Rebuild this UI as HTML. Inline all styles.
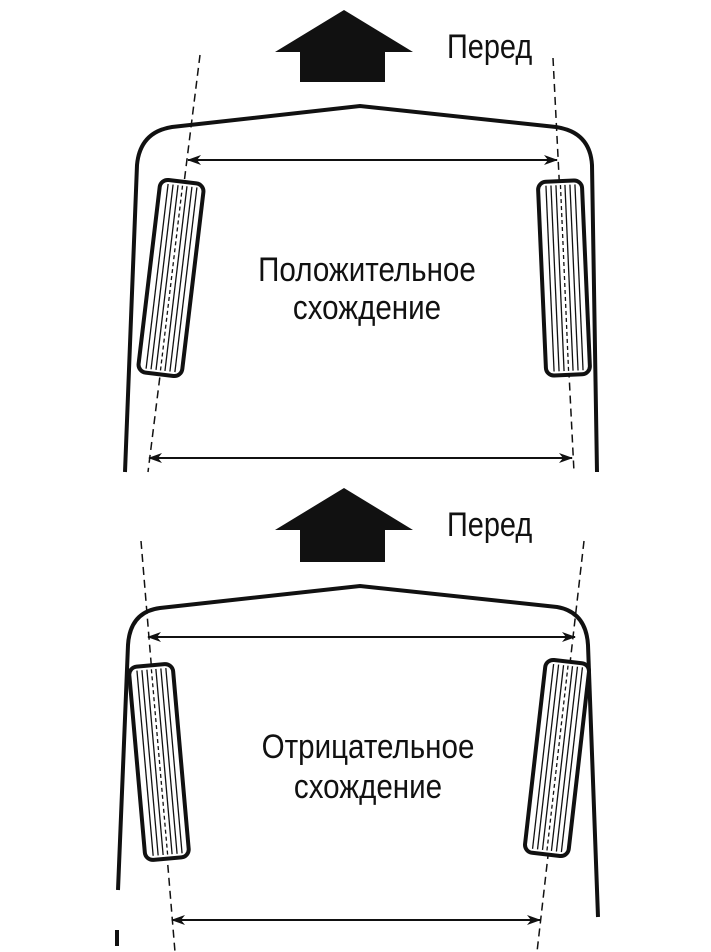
<!DOCTYPE html>
<html><head><meta charset="utf-8"><style>
html,body{margin:0;padding:0;background:#fff;}
svg{display:block}
text{font-family:"Liberation Sans",sans-serif;fill:#111;}
</style></head><body>
<svg width="711" height="952" viewBox="0 0 711 952" xmlns="http://www.w3.org/2000/svg">
<defs>
<marker id="ah" viewBox="0 0 14 10" refX="13" refY="5" markerWidth="14" markerHeight="10" markerUnits="userSpaceOnUse" orient="auto-start-reverse">
<path d="M0,0 L14,5 L0,10 L4,5 Z" fill="#111"/>
</marker>
<g id="wheel">
<rect x="-22" y="-97" width="44" height="194" rx="8" fill="#fff" stroke="#111" stroke-width="4"/>
<g stroke="#111" stroke-width="1.3">
<line x1="-14" y1="-93" x2="-14" y2="93"/>
<line x1="-9" y1="-93" x2="-9" y2="93"/>
<line x1="-4" y1="-93" x2="-4" y2="93"/>
<line x1="5" y1="-93" x2="5" y2="93"/>
<line x1="10" y1="-93" x2="10" y2="93"/>
<line x1="15" y1="-93" x2="15" y2="93"/>
<line x1="0.5" y1="-93" x2="0.5" y2="93" stroke-dasharray="4 3"/>
</g>
</g>
</defs>

<!-- TOP -->
<polygon points="275,52 344,10 413,52 385,52 385,82 300,82 300,52" fill="#111"/>
<text x="447" y="58" font-size="34" transform="translate(447 0) scale(0.85 1) translate(-447 0)">Перед</text>
<path d="M125,472 L137,165 Q140,132 172,127 L360,106 L556,127 Q590,132 592,165 L597,472" fill="none" stroke="#111" stroke-width="4"/>
<line x1="200" y1="55" x2="148" y2="472" stroke="#111" stroke-width="1.5" stroke-dasharray="8 5"/>
<line x1="553" y1="58" x2="574" y2="472" stroke="#111" stroke-width="1.5" stroke-dasharray="8 5"/>
<use href="#wheel" transform="translate(171 278) rotate(6.8)"/>
<use href="#wheel" transform="translate(564 278) rotate(-2.5)"/>
<line x1="188" y1="160" x2="557" y2="160" stroke="#111" stroke-width="2" marker-start="url(#ah)" marker-end="url(#ah)"/>
<line x1="149" y1="458" x2="572" y2="458" stroke="#111" stroke-width="2" marker-start="url(#ah)" marker-end="url(#ah)"/>
<g font-size="34" text-anchor="middle">
<text x="367" y="281" transform="translate(367 0) scale(0.87 1) translate(-367 0)">Положительное</text>
<text x="367" y="319" transform="translate(367 0) scale(0.87 1) translate(-367 0)">схождение</text>
</g>

<!-- BOTTOM -->
<polygon points="275,530 344,488 413,530 385,530 385,562 300,562 300,530" fill="#111"/>
<text x="447" y="536" font-size="34" transform="translate(447 0) scale(0.85 1) translate(-447 0)">Перед</text>
<path d="M118,890 L128,645 Q130,612 160,608 L360,586 L557,607 Q586,612 588,645 L598,917" fill="none" stroke="#111" stroke-width="4"/>
<line x1="117" y1="930" x2="117" y2="946" stroke="#111" stroke-width="4"/>
<line x1="141" y1="541" x2="175" y2="952" stroke="#111" stroke-width="1.5" stroke-dasharray="8 5"/>
<line x1="584" y1="541" x2="537" y2="952" stroke="#111" stroke-width="1.5" stroke-dasharray="8 5"/>
<use href="#wheel" transform="translate(159 762) rotate(-5)"/>
<use href="#wheel" transform="translate(557 758) rotate(6.5)"/>
<line x1="148" y1="637" x2="575" y2="637" stroke="#111" stroke-width="2" marker-start="url(#ah)" marker-end="url(#ah)"/>
<line x1="172" y1="920" x2="540" y2="920" stroke="#111" stroke-width="2" marker-start="url(#ah)" marker-end="url(#ah)"/>
<g font-size="34" text-anchor="middle">
<text x="368" y="758" transform="translate(368 0) scale(0.87 1) translate(-368 0)">Отрицательное</text>
<text x="368" y="798" transform="translate(368 0) scale(0.87 1) translate(-368 0)">схождение</text>
</g>
</svg>
</body></html>
